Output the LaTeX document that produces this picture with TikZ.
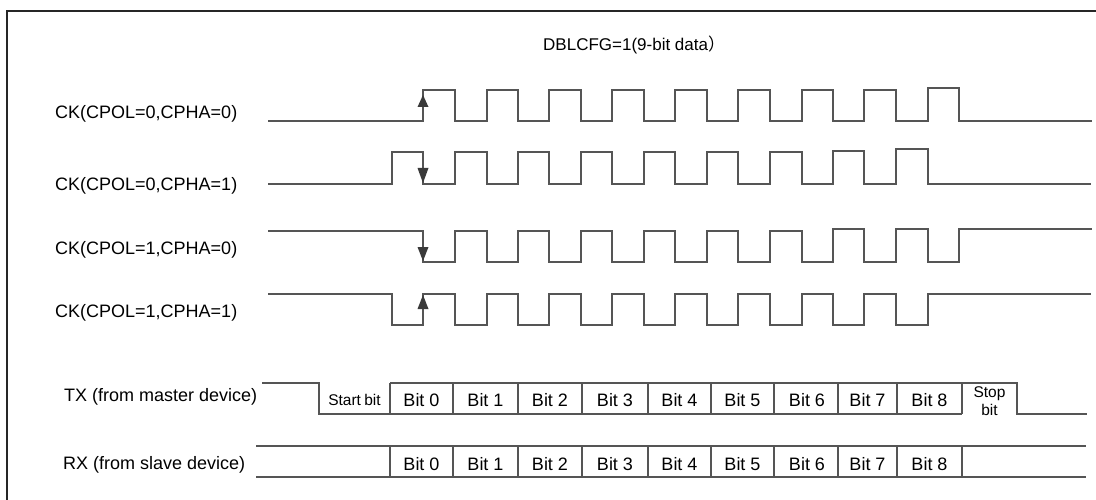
\documentclass[tikz,border=0pt]{standalone}
\usepackage{fontspec}
\setmainfont{Liberation Sans}
\newfontfamily\cjkfont{Noto Sans CJK SC}
\definecolor{wavegray}{HTML}{555555}
\definecolor{arrowgray}{HTML}{3A3A3A}
\begin{document}
\begin{tikzpicture}[x=1pt,y=-1pt,
  wave/.style={draw=wavegray,line width=1.6pt},
  frameline/.style={draw=black!85,line width=2pt},
  lbl/.style={inner sep=0pt,anchor=west,font=\fontsize{18}{20}\selectfont},
  cell/.style={inner sep=0pt,font=\fontsize{18}{20}\selectfont},
  smallcell/.style={inner sep=0pt,align=center,font=\fontsize{15.5}{18}\selectfont},
  tip/.style={fill=arrowgray,draw=none}]
\useasboundingbox (0,0) rectangle (1096,500);
\fill[white] (0,0) rectangle (1096,500);
% frame
\draw[frameline] (7,500) -- (7,11) -- (1096,11);
% title
\node[inner sep=0pt,anchor=west,font=\fontsize{17}{19}\selectfont] (title) at (543,45) {DBLCFG=1(9-bit data{\cjkfont ）}};
% labels
\node[lbl] (ck00) at (55,114) {CK(CPOL=0,CPHA=0)};
\node[lbl] (ck01) at (55,186) {CK(CPOL=0,CPHA=1)};
\node[lbl] (ck10) at (55,250) {CK(CPOL=1,CPHA=0)};
\node[lbl] (ck11) at (55,313) {CK(CPOL=1,CPHA=1)};
\node[lbl] (tx) at (64,397) {TX (from master device)};
\node[lbl] (rx) at (63,465) {RX (from slave device)};
% clocks
\draw[wave] (268,121) -| (423,90) -| (455,121) -| (487,90) -| (518,121) -| (549,90) -| (581,121) -| (612,90) -| (644,121) -| (675,90) -| (707,121) -| (738,90) -| (770,121) -| (802,90) -| (833,121) -| (864,90) -| (896,121) -| (928,88) -| (959,121) -- (1092,121);
\draw[wave] (268,184) -| (392,152) -| (423,184) -| (455,152) -| (487,184) -| (518,152) -| (549,184) -| (581,152) -| (612,184) -| (644,152) -| (675,184) -| (707,152) -| (738,184) -| (770,152) -| (802,184) -| (833,151) -| (864,184) -| (896,149) -| (928,184) -- (1091,184);
\draw[wave] (268,231) -| (423,262) -| (455,231) -| (487,262) -| (518,231) -| (549,262) -| (581,231) -| (612,262) -| (644,231) -| (675,262) -| (707,231) -| (738,262) -| (770,231) -| (802,262) -| (833,229) -| (864,262) -| (896,229) -| (928,262) -| (959,229) -- (1092,229);
\draw[wave] (268,294) -| (392,325) -| (423,294) -| (455,325) -| (487,294) -| (518,325) -| (549,294) -| (581,325) -| (612,294) -| (644,325) -| (675,294) -| (707,325) -| (738,294) -| (770,325) -| (802,294) -| (833,325) -| (864,294) -| (896,325) -| (928,294) -- (1091,294);
% edge arrows
\fill[tip] (423,95) -- (417.5,107) -- (428.5,107) -- cycle;
\fill[tip] (423,183) -- (417.5,168) -- (428.5,168) -- cycle;
\fill[tip] (423,261) -- (417.5,247) -- (428.5,247) -- cycle;
\fill[tip] (423,295) -- (417.5,309) -- (428.5,309) -- cycle;
% TX
\draw[wave] (262,383) -- (319,383) -- (319,414) -- (962,414);
\draw[wave] (390,383) -- (1017,383) -- (1017,414) -- (1087,414);
\foreach \x in {390,453,518,582,648,711,774,838,897,962}
  \draw[wave] (\x,383) -- (\x,414);
% RX
\draw[wave] (256,446) -- (1086,446);
\draw[wave] (256,477) -- (1086,477);
\foreach \x in {390,453,518,582,648,711,774,838,897,962}
  \draw[wave] (\x,446) -- (\x,477);
% TX cells
\node[smallcell] (start) at (354.5,400) {Start\kern-1pt\ bit};
\node[cell] (t0) at (421.5,400) {Bit 0};
\node[cell] (t1) at (485.5,400) {Bit 1};
\node[cell] (t2) at (550,400) {Bit 2};
\node[cell] (t3) at (615,400) {Bit 3};
\node[cell] (t4) at (679.5,400) {Bit 4};
\node[cell] (t5) at (742.5,400) {Bit 5};
\node[cell] (t6) at (807,400) {Bit 6};
\node[cell] (t7) at (867.5,400) {Bit 7};
\node[cell] (t8) at (929.5,400) {Bit 8};
\node[smallcell] (stop) at (989.5,401) {Stop\\bit};
% RX cells
\node[cell] (r0) at (421.5,464) {Bit 0};
\node[cell] (r1) at (485.5,464) {Bit 1};
\node[cell] (r2) at (550,464) {Bit 2};
\node[cell] (r3) at (615,464) {Bit 3};
\node[cell] (r4) at (679.5,464) {Bit 4};
\node[cell] (r5) at (742.5,464) {Bit 5};
\node[cell] (r6) at (807,464) {Bit 6};
\node[cell] (r7) at (867.5,464) {Bit 7};
\node[cell] (r8) at (929.5,464) {Bit 8};
\end{tikzpicture}
\end{document}
